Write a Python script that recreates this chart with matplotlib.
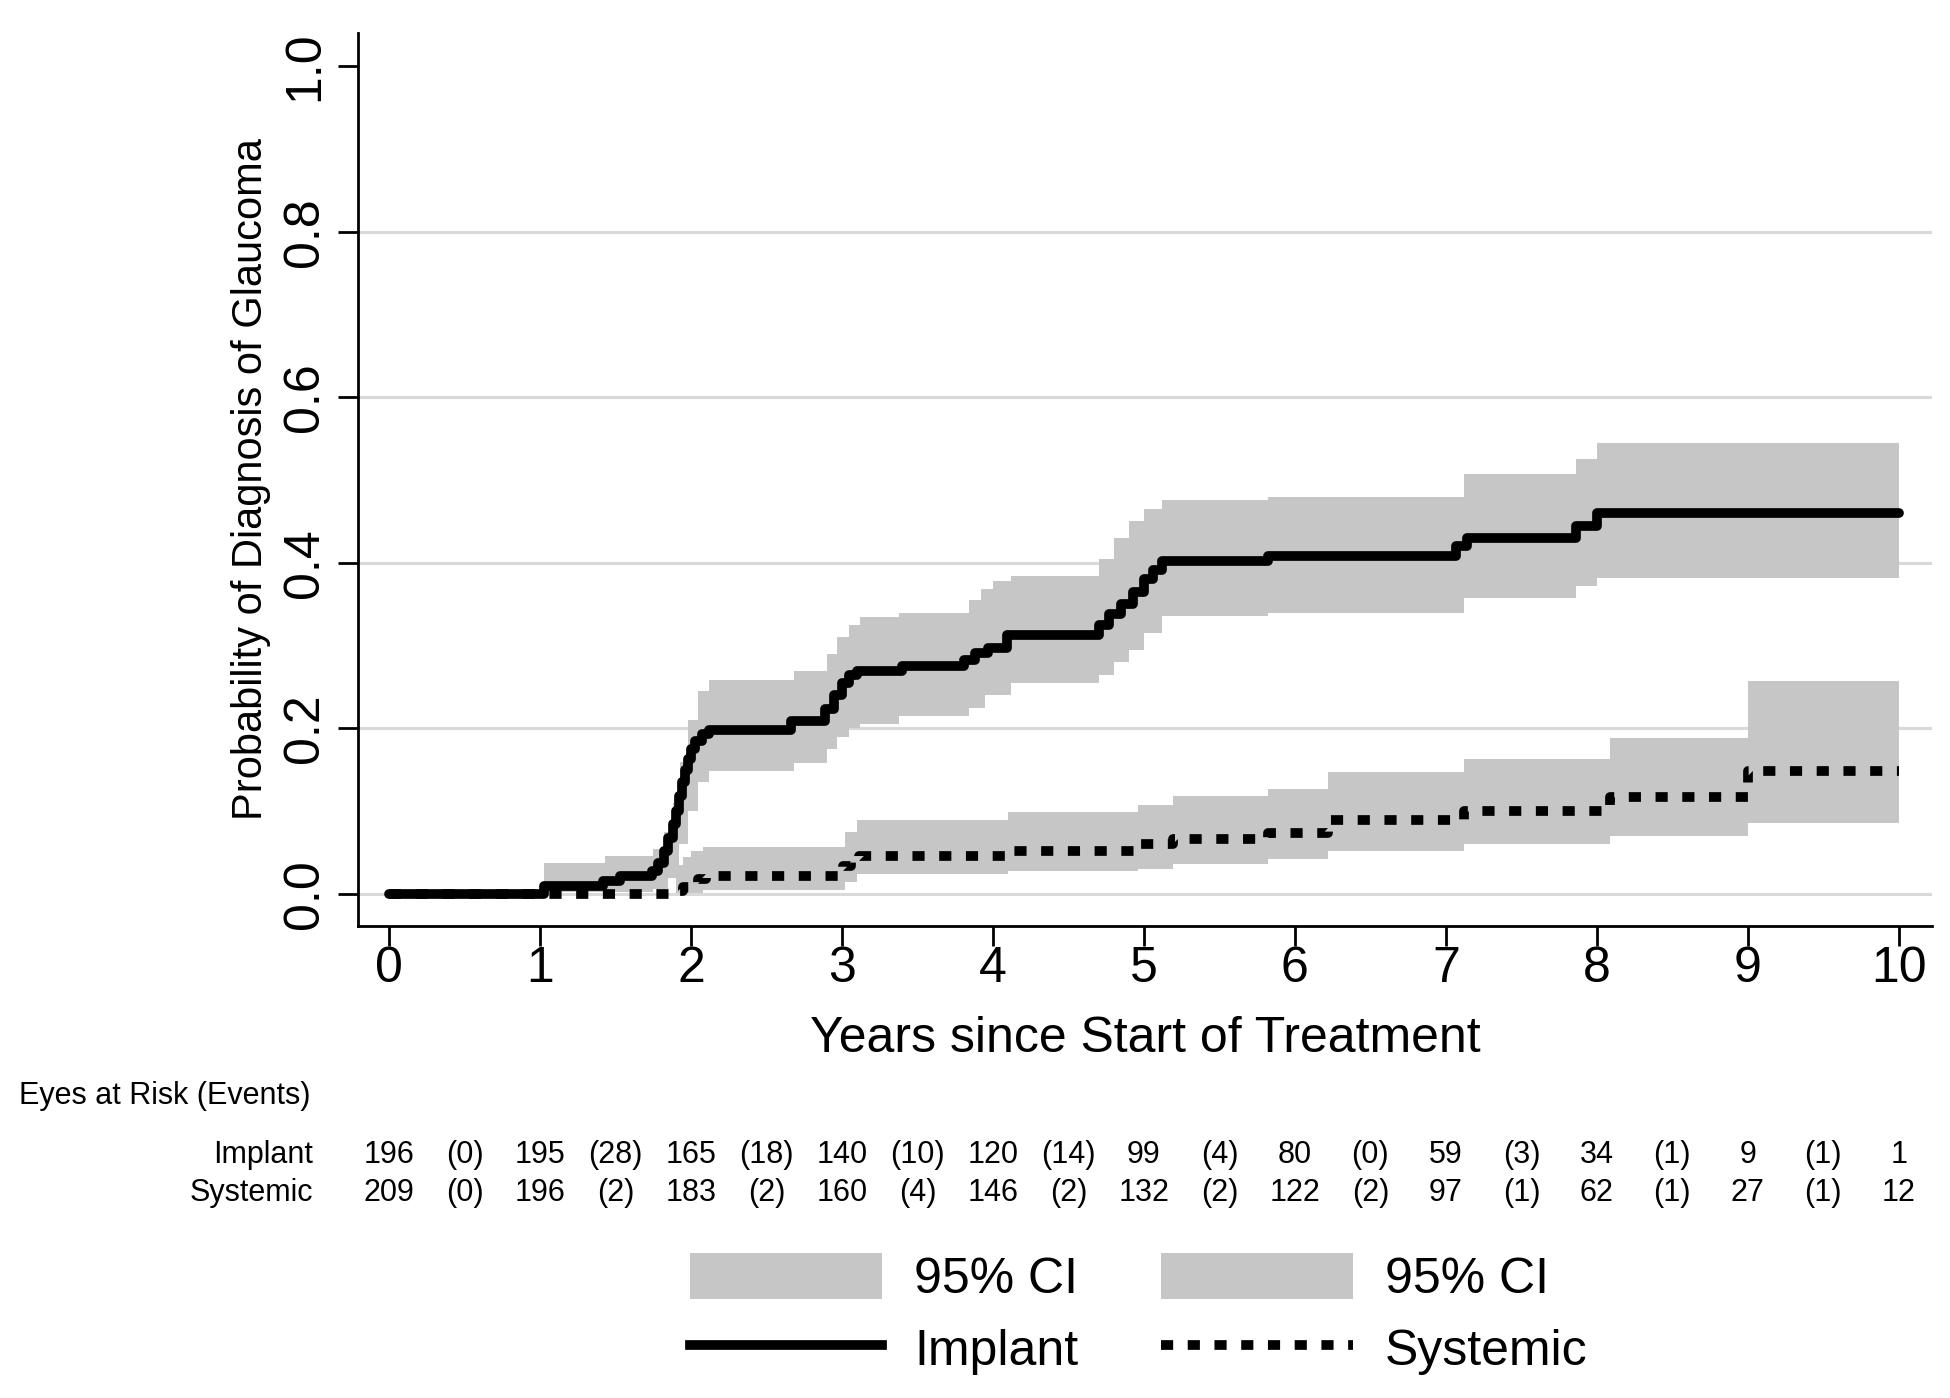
import matplotlib
matplotlib.use("Agg")
import matplotlib.pyplot as plt
import numpy as np
from matplotlib.lines import Line2D
from matplotlib.patches import Patch
from matplotlib.transforms import blended_transform_factory

plt.rcParams["font.family"] = ["Liberation Sans", "DejaVu Sans"]

# cumulative incidence, implant group (step function)
imp_t = [0, 1.03, 1.42, 1.53, 1.74, 1.78, 1.82, 1.85, 1.88, 1.90, 1.92, 1.94, 1.96,
         1.98, 2.00, 2.03, 2.07, 2.12, 2.66, 2.89, 2.95, 3.00, 3.05, 3.10, 3.40,
         3.81, 3.88, 3.97, 4.09, 4.70, 4.77, 4.85, 4.93, 5.00, 5.06, 5.12, 5.82,
         7.07, 7.14, 7.86, 8.00, 10.0]
imp_y = [0, 0.010, 0.016, 0.022, 0.028, 0.038, 0.052, 0.068, 0.085, 0.100, 0.118,
         0.135, 0.150, 0.163, 0.175, 0.185, 0.193, 0.198, 0.209, 0.223, 0.240,
         0.255, 0.265, 0.270, 0.275, 0.283, 0.291, 0.297, 0.313, 0.325, 0.338,
         0.350, 0.365, 0.380, 0.392, 0.402, 0.408, 0.420, 0.430, 0.444, 0.460, 0.460]

imp_hi_t = [0, 1.03, 1.43, 1.75, 1.82, 1.88, 1.93, 1.98, 2.05, 2.12, 2.68, 2.90,
            2.97, 3.05, 3.12, 3.38, 3.84, 3.92, 4.00, 4.12, 4.70, 4.80, 4.90, 5.00,
            5.12, 5.82, 7.12, 7.86, 8.00, 10.0]
imp_hi = [0, 0.038, 0.046, 0.055, 0.075, 0.110, 0.160, 0.210, 0.245, 0.259, 0.270,
          0.290, 0.310, 0.325, 0.335, 0.340, 0.355, 0.368, 0.378, 0.384, 0.405,
          0.430, 0.450, 0.465, 0.476, 0.480, 0.507, 0.525, 0.545, 0.545]

imp_lo_t = [0, 1.03, 1.75, 1.85, 1.92, 1.98, 2.05, 2.12, 2.68, 2.90, 2.97, 3.05,
            3.12, 3.38, 3.84, 3.95, 4.12, 4.70, 4.80, 4.90, 5.00, 5.12, 5.82, 7.12,
            7.86, 8.00, 10.0]
imp_lo = [0, 0.003, 0.006, 0.020, 0.060, 0.100, 0.135, 0.149, 0.158, 0.175, 0.190,
          0.200, 0.206, 0.215, 0.225, 0.240, 0.255, 0.265, 0.280, 0.295, 0.315,
          0.336, 0.340, 0.358, 0.372, 0.382, 0.382]

# systemic group
sys_t = [0, 1.90, 1.95, 2.00, 2.05, 2.10, 3.01, 3.06, 3.11, 4.12, 4.96, 5.19, 5.82,
         6.22, 7.12, 8.09, 9.00, 10.0]
sys_y = [0, 0.004, 0.008, 0.013, 0.018, 0.022, 0.034, 0.040, 0.046, 0.052, 0.060,
         0.067, 0.074, 0.090, 0.100, 0.117, 0.149, 0.149]

sys_hi_t = [0, 1.90, 1.95, 2.00, 2.08, 3.02, 3.10, 4.10, 4.96, 5.19, 5.82, 6.22,
            7.12, 8.09, 9.00, 10.0]
sys_hi = [0, 0.035, 0.045, 0.052, 0.057, 0.075, 0.090, 0.099, 0.107, 0.119, 0.127,
          0.147, 0.163, 0.189, 0.257, 0.257]

sys_lo_t = [0, 1.90, 2.08, 3.02, 3.10, 4.10, 4.96, 5.19, 5.82, 6.22, 7.12, 8.09,
            9.00, 10.0]
sys_lo = [0, 0.001, 0.005, 0.015, 0.024, 0.028, 0.030, 0.036, 0.042, 0.052, 0.060,
          0.070, 0.086, 0.086]

# risk table
years = list(range(11))
imp_at_risk = [196, 195, 165, 140, 120, 99, 80, 59, 34, 9, 1]
imp_events = [0, 28, 18, 10, 14, 4, 0, 3, 1, 1]
sys_at_risk = [209, 196, 183, 160, 146, 132, 122, 97, 62, 27, 12]
sys_events = [0, 2, 2, 4, 2, 2, 2, 1, 1, 1]

GRAY = "#c6c6c6"
LW = 7
DOTS = (0, (1.25, 1.5))


def step_values(grid, t, y):
    idx = np.searchsorted(np.asarray(t), grid, side="right") - 1
    return np.asarray(y)[idx]


def band(ax, lo_t, lo, hi_t, hi):
    grid = np.unique(np.concatenate([lo_t, hi_t]))
    ax.fill_between(grid, step_values(grid, lo_t, lo), step_values(grid, hi_t, hi),
                    step="post", color=GRAY, linewidth=0, zorder=1)


fig = plt.figure(figsize=(19.5, 13.98), dpi=100)
ax = fig.add_axes([0.1836, 0.3376, 0.9908 - 0.1836, 0.9764 - 0.3376])

band(ax, imp_lo_t, imp_lo, imp_hi_t, imp_hi)
band(ax, sys_lo_t, sys_lo, sys_hi_t, sys_hi)

ax.step(imp_t, imp_y, where="post", color="black", lw=LW,
        solid_capstyle="round", solid_joinstyle="round", zorder=3)
ax.step(sys_t, sys_y, where="post", color="black", lw=LW, linestyle=DOTS,
        zorder=3)

ax.set_xlim(-0.205, 10.22)
ax.set_ylim(-0.0386, 1.040)
ax.set_xticks(years)
ax.set_yticks([0, 0.2, 0.4, 0.6, 0.8, 1.0])
ax.set_yticklabels(["0.0", "0.2", "0.4", "0.6", "0.8", "1.0"])
ax.tick_params(axis="both", direction="out", length=14.5, width=2, labelsize=36)
ax.tick_params(axis="x", pad=0)
ax.tick_params(axis="y", pad=7, labelrotation=90)
for lab in ax.get_yticklabels():
    lab.set_va("center")

ax.set_axisbelow(True)
ax.grid(axis="y", color="#d9d9d9", linewidth=2.2)
ax.get_ygridlines()[-1].set_visible(False)

for side in ("top", "right"):
    ax.spines[side].set_visible(False)
for side in ("left", "bottom"):
    ax.spines[side].set_linewidth(2)

ax.set_xlabel("Years since Start of Treatment", fontsize=36, labelpad=17)
ax.set_ylabel("Probability of Diagnosis of Glaucoma", fontsize=30, labelpad=8)

# number at risk table
tr = blended_transform_factory(ax.transData, fig.transFigure)
fig.text(0.0097, 0.2160, "Eyes at Risk (Events)", fontsize=22, va="center", ha="left")
rows = [("Implant", imp_at_risk, imp_events, 0.1738),
        ("Systemic", sys_at_risk, sys_events, 0.1466)]
for name, at_risk, events, yy in rows:
    fig.text(313 / 1950, yy, name, fontsize=22, ha="right", va="center")
    for yr, n in zip(years, at_risk):
        ax.text(yr, yy, str(n), transform=tr, fontsize=22, ha="center", va="center")
    for yr, e in zip(years[:-1], events):
        ax.text(yr + 0.5, yy, f"({e})", transform=tr, fontsize=22,
                ha="center", va="center")

handles = [Patch(facecolor=GRAY, edgecolor="none"),
           Line2D([], [], color="black", lw=LW),
           Patch(facecolor=GRAY, edgecolor="none"),
           Line2D([], [], color="black", lw=LW, linestyle=DOTS)]
labels = ["95% CI", "Implant", "95% CI", "Systemic"]
fig.legend(handles, labels, ncol=2, loc="center", bbox_to_anchor=(0.584, 0.060),
           frameon=False, fontsize=36, handlelength=3.84, handleheight=1.04,
           handletextpad=0.64, columnspacing=1.64, labelspacing=0.45)

fig.savefig("out.png", dpi=100)
